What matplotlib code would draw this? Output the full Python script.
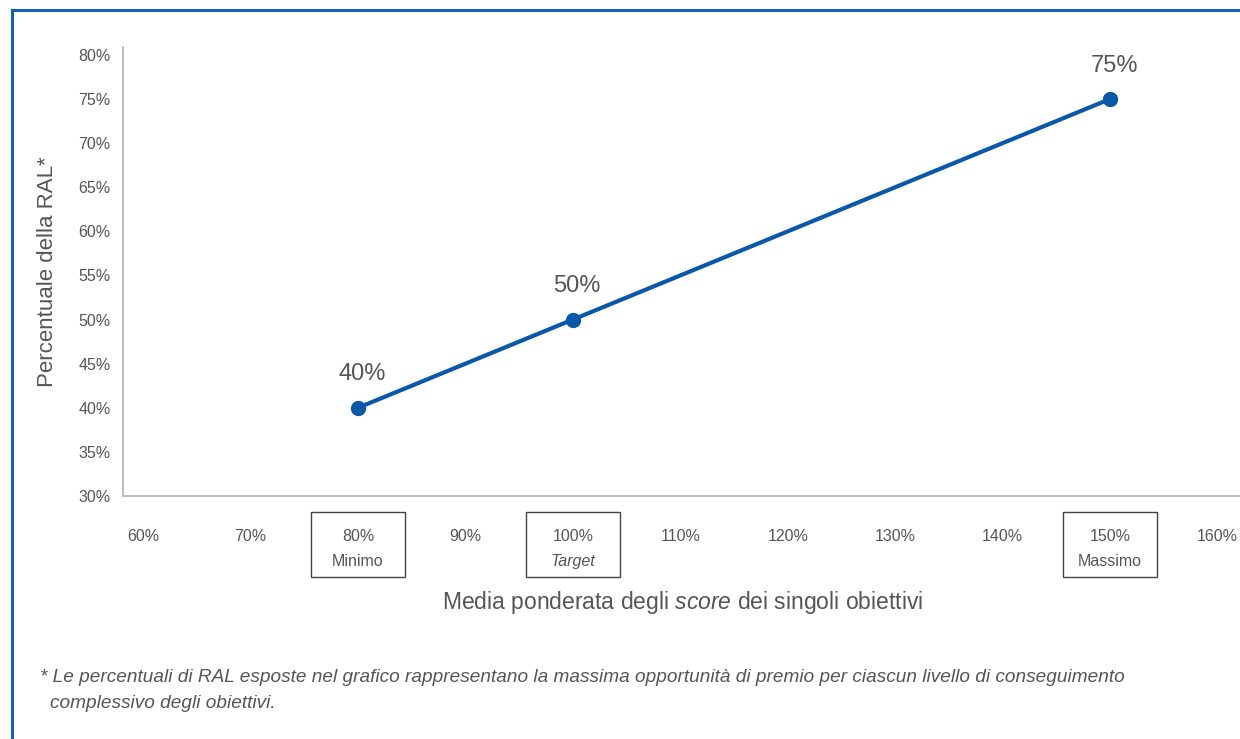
import matplotlib.pyplot as plt
from matplotlib.patches import Rectangle
from matplotlib.lines import Line2D

plt.rcParams['font.family'] = ['Liberation Sans', 'DejaVu Sans']
plt.rcParams['mathtext.fontset'] = 'custom'
plt.rcParams['mathtext.it'] = 'Liberation Sans:italic'
plt.rcParams['mathtext.rm'] = 'Liberation Sans'

# data
score = [80, 100, 150]
ral = [40, 50, 75]
point_labels = ['40%', '50%', '75%']
x_ticks = [60, 70, 80, 90, 100, 110, 120, 130, 140, 150, 160]
y_ticks = [30, 35, 40, 45, 50, 55, 60, 65, 70, 75, 80]
boxed = {80: 'Minimo', 100: 'Target', 150: 'Massimo'}
italic_box = ['Target']

blue = '#0b57a8'
grey = '#555555'

fig = plt.figure(figsize=(12.4, 7.39), dpi=100)
ax = fig.add_axes([123 / 1240, 1 - 496 / 739, 1 - 123 / 1240, 449 / 739])

ax.plot(score, ral, color=blue, lw=3, marker='o', markersize=10, zorder=3)
for x, y, s in zip(score, ral, point_labels):
    ax.annotate(s, (x, y), xytext=(3, 24), textcoords='offset points',
                ha='center', va='center', fontsize=17, color=grey)

ax.set_xlim(58.13, 162.1)
ax.set_ylim(30, 80.9)
ax.set_xticks(x_ticks)
ax.set_xticklabels([f'{v}%' for v in x_ticks])
ax.set_yticks(y_ticks)
ax.set_yticklabels([f'{v}%' for v in y_ticks])
ax.tick_params(axis='both', length=0, labelsize=11.5, labelcolor=grey)
ax.tick_params(axis='x', pad=24)
ax.tick_params(axis='y', pad=9)

for s in ['top', 'right']:
    ax.spines[s].set_visible(False)
for s in ['left', 'bottom']:
    ax.spines[s].set_color('#b3b3b3')
    ax.spines[s].set_linewidth(1.2)

trans = ax.get_xaxis_transform()
for v, name in boxed.items():
    ax.add_patch(Rectangle((v - 4.375, -0.1804), 8.75, 0.1448, transform=trans,
                           fill=False, edgecolor='#444444', lw=1, clip_on=False))
    ax.text(v, -0.1448, name, transform=trans, ha='center', va='center',
            fontsize=11.5, color=grey, style='italic' if name in italic_box else 'normal')

fig.text(683 / 1240, 1 - 603 / 739,
         r'Media ponderata degli $\it{score}$ dei singoli obiettivi',
         ha='center', va='center', fontsize=16.5, color=grey)
fig.text(48 / 1240, 1 - 272 / 739, 'Percentuale della RAL*', rotation=90,
         ha='center', va='center', fontsize=16, color=grey)

fig.text(40 / 1240, 1 - 677 / 739,
         '* Le percentuali di RAL esposte nel grafico rappresentano la massima '
         'opportunità di premio per ciascun livello di conseguimento',
         ha='left', va='center', fontsize=13.7, color=grey, style='italic')
fig.text(50 / 1240, 1 - 703 / 739, 'complessivo degli obiettivi.',
         ha='left', va='center', fontsize=13.7, color=grey, style='italic')

# blue frame (left and top edges)
fig.add_artist(Line2D([12 / 1240, 12 / 1240], [0, 1 - 10 / 739], color='#1560b3', lw=2.2))
fig.add_artist(Line2D([12 / 1240, 1], [1 - 10 / 739, 1 - 10 / 739], color='#1560b3', lw=2.2))

fig.savefig('out.png', dpi=100)
